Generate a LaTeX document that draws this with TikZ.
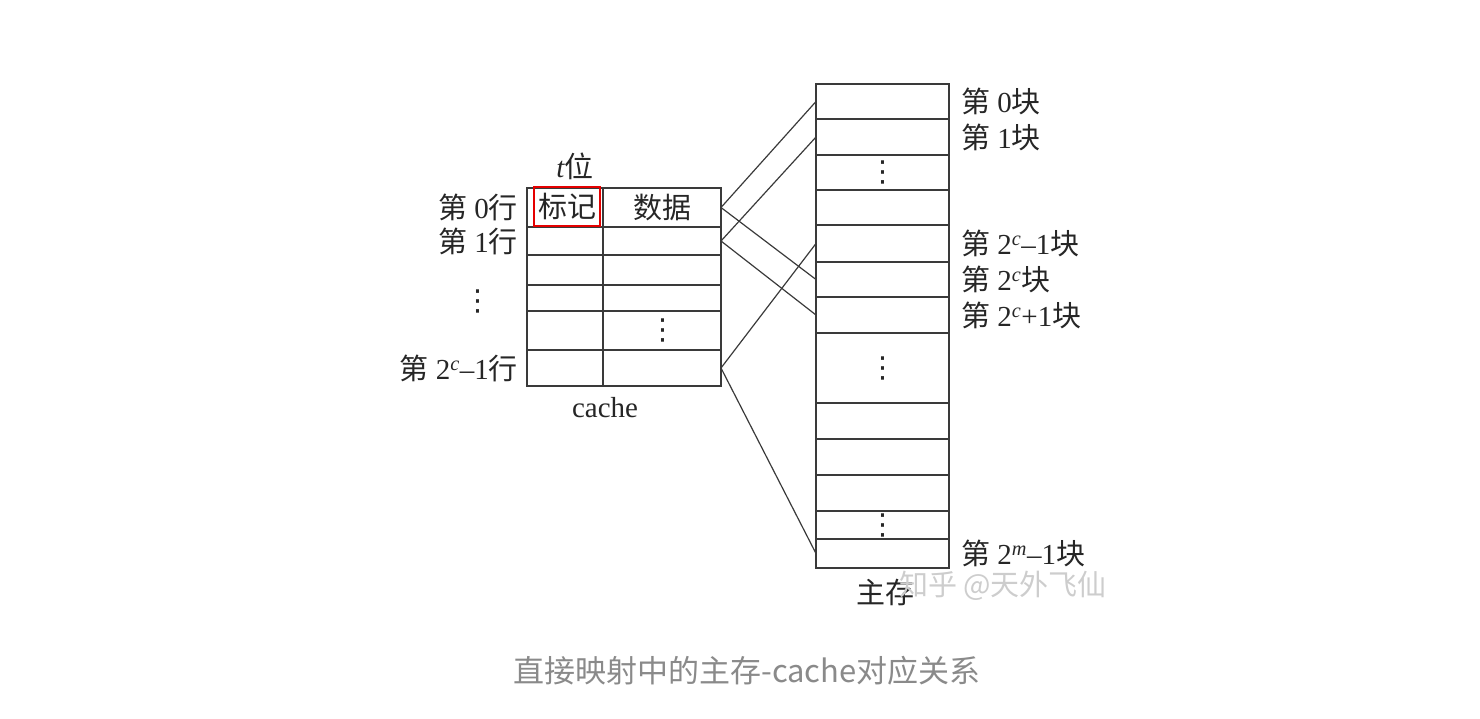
\documentclass[tikz,border=0pt]{standalone}
\usepackage{fontspec}
\setmainfont{Liberation Serif}
\newfontfamily\cjk{Noto Sans CJK SC}
\newfontfamily\dotsfont{DejaVu Sans}
\usetikzlibrary{calc,positioning}
\newcommand{\zh}[1]{{\cjk #1}}
\newcommand{\vd}{{\dotsfont ⋮}}
\definecolor{rule}{HTML}{3A3A3A}
\definecolor{capgray}{HTML}{8A8A8A}
\definecolor{markgray}{HTML}{CDCDCD}
\tikzset{
        cell/.style={draw=rule, line width=1.4pt, inner sep=0pt, outer sep=0pt},
        link/.style={draw=rule, line width=1.2pt},
        lbl/.style={font=\fontsize{29pt}{32pt}\selectfont, text=black!85, inner sep=0pt},
        tagbox/.style={draw=red!90!black, line width=2.6pt}
}

\begin{document}
\begin{tikzpicture}[x=1pt,y=-1pt]
        \useasboundingbox (0,0) rectangle (1480,718);
        % cache
        \foreach \n/\ya/\yb in {0/188/227, 1/227/255, 2/255/285, 3/285/311, 4/311/350, 5/350/386}
        {
        \node[cell, minimum width=76pt, minimum height={(\yb-\ya)*1pt}] (t\n) at (565,{(\ya+\yb)/2}) {};
        \node[cell, minimum width=118pt, minimum height={(\yb-\ya)*1pt}] (d\n) at (662,{(\ya+\yb)/2}) {};
        }
        % main memory
        \foreach \n/\ya/\yb in {0/84/119, 1/119/155, 2/155/190, 3/190/225, 4/225/262, 5/262/297, 6/297/333, 7/333/403, 8/403/439, 9/439/475, 10/475/511, 11/511/539, 12/539/568}
        \node[cell, minimum width=133pt, minimum height={(\yb-\ya)*1pt}] (m\n) at (882.5,{(\ya+\yb)/2}) {};
        % mapping
        \foreach \a/\b in {d0/m0, d0/m5, d1/m1, d1/m6, d5/m4, d5/m12}
        \draw[link] (\a.east) -- (\b.west);

        \node[lbl] (tbits) at (575,166) {{\itshape t}\zh{位}};
        \node[lbl, tagbox, minimum width=66pt, minimum height=39pt] (tag) at (567,206.5) {\zh{标记}};
        \node[lbl] (data) at (d0) {\zh{数据}};
        \node[lbl] (ddots) at (663,330) {\vd};
        \node[lbl] (cachelbl) at (605,408) {cache};

        \node[lbl, anchor=east] (r0) at ([xshift=-9pt]t0.west) {\zh{第} 0\zh{行}};
        \node[lbl, anchor=east] (r1) at ([xshift=-9pt]t1.west) {\zh{第} 1\zh{行}};
        \node[lbl] (rdots) at (478,301) {\vd};
        \node[lbl, anchor=east] (rlast) at ([xshift=-9pt]t5.west) {\zh{第} 2\textsuperscript{\itshape c}--1\zh{行}};

        \node[lbl, anchor=west] (b0) at ([xshift=12pt]m0.east) {\zh{第} 0\zh{块}};
        \node[lbl, anchor=west] (b1) at ([xshift=12pt]m1.east) {\zh{第} 1\zh{块}};
        \node[lbl, anchor=west] (b4) at ([xshift=12pt]m4.east) {\zh{第} 2\textsuperscript{\itshape c}--1\zh{块}};
        \node[lbl, anchor=west] (b5) at ([xshift=12pt]m5.east) {\zh{第} 2\textsuperscript{\itshape c}\zh{块}};
        \node[lbl, anchor=west] (b6) at ([xshift=12pt]m6.east) {\zh{第} 2\textsuperscript{\itshape c}+1\zh{块}};
        \node[lbl, anchor=west] (b12) at ([xshift=12pt]m12.east) {\zh{第} 2\textsuperscript{\itshape m}--1\zh{块}};
        \node[lbl] (mdots1) at (m2) {\vd};
        \node[lbl] (mdots2) at (m7) {\vd};
        \node[lbl] (mdots3) at (m11) {\vd};
        \node[lbl] (memlbl) at (885,592) {\zh{主存}};
        \node[lbl, text=markgray] (mark) at (1003,586) {\zh{知乎 @天外飞仙}};

        \node[font=\cjk\fontsize{31pt}{34pt}\selectfont, text=capgray, inner sep=0pt] (caption) at (747,671) {直接映射中的主存-cache对应关系};
    \end{tikzpicture}
\end{document}
